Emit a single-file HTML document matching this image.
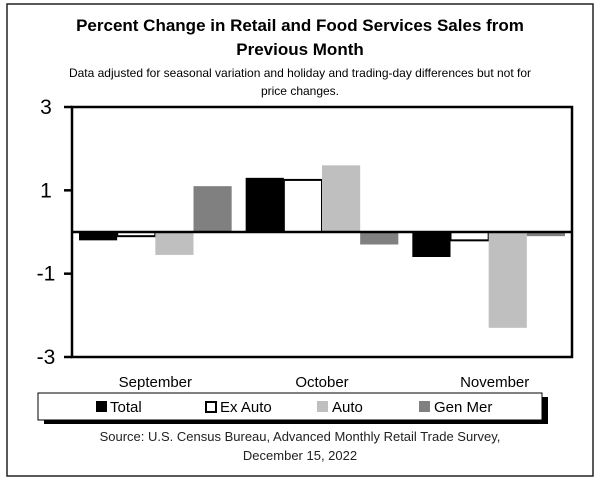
<!DOCTYPE html>
<html><head><meta charset="utf-8"><style>
body{margin:0;width:600px;height:482px;background:#fff;overflow:hidden;font-family:"Liberation Sans",sans-serif}
svg{display:block}
</style></head><body>
<svg width="600" height="482" xmlns="http://www.w3.org/2000/svg">
<rect x="7" y="4" width="586" height="472" fill="none" stroke="#222" stroke-width="1.5"/>
<text x="300" y="31" text-anchor="middle" font-size="17" font-weight="bold">Percent Change in Retail and Food Services Sales from</text>
<text x="300" y="55" text-anchor="middle" font-size="17" font-weight="bold">Previous Month</text>
<text x="300" y="77" text-anchor="middle" font-size="12">Data adjusted for seasonal variation and holiday and trading-day differences but not for</text>
<text x="300" y="95" text-anchor="middle" font-size="12">price changes.</text>
<g id="plot"></g>
<rect x="44" y="397" width="504" height="27" fill="#000"/>
<rect x="38" y="393" width="504" height="27" fill="#fff" stroke="#000" stroke-width="1"/>
<g font-size="15">
<rect x="96" y="401" width="11" height="11" fill="#000"/>
<text x="110" y="412">Total</text>
<rect x="206" y="402" width="10" height="10" fill="#fff" stroke="#000" stroke-width="2"/>
<text x="220" y="412">Ex Auto</text>
<rect x="317" y="401" width="11" height="11" fill="#bfbfbf"/>
<text x="332" y="412">Auto</text>
<rect x="419" y="401" width="11" height="11" fill="#808080"/>
<text x="434" y="412">Gen Mer</text>
</g>
<text x="300" y="441" text-anchor="middle" font-size="13" fill="#222">Source: U.S. Census Bureau, Advanced Monthly Retail Trade Survey,</text>
<text x="300" y="460" text-anchor="middle" font-size="13" fill="#222">December 15, 2022</text>
</svg>
<script>
const months = ["September","October","November"];
const series = ["Total","Ex Auto","Auto","Gen Mer"];
const totalVals = [-0.2, 1.3, -0.6];
const exAutoVals = [-0.1, 1.25, -0.2];
const autoVals = [-0.55, 1.6, -2.3];
const genMerVals = [1.1, -0.3, -0.1];
const yTicks = [3, 1, -1, -3];

const NS = "http://www.w3.org/2000/svg";
const g = document.getElementById("plot");
const L = 72, R = 572, T = 107, B = 357, yMin = -3, yMax = 3;
const y = v => T + (yMax - v) / (yMax - yMin) * (B - T);
const gw = (R - L) / months.length, pad = 7, bw = (gw - 2 * pad) / series.length;
const x = (m, s) => L + m * gw + pad + s * bw;
function mk(tag, attrs) { const e = document.createElementNS(NS, tag); for (const k in attrs) e.setAttribute(k, attrs[k]); g.appendChild(e); return e; }

const all = [totalVals, exAutoVals, autoVals, genMerVals];
const fills = ["#000", "#fff", "#bfbfbf", "#808080"];
const keys = ["total", "ex-auto", "auto", "gen-mer"];
all.forEach((vals, s) => {
  vals.forEach((v, m) => {
    const y0 = y(0), y1 = y(v);
    const r = mk("rect", { x: x(m, s), y: Math.min(y0, y1), width: bw, height: Math.abs(y1 - y0), fill: fills[s] });
    if (s === 1) { r.setAttribute("stroke", "#000"); r.setAttribute("stroke-width", "2"); }
    
    
  });
});
const frame = mk("rect", { x: L, y: T, width: R - L, height: B - T, fill: "none", stroke: "#000", "stroke-width": 2.5 });


const zl = mk("line", { x1: L, x2: R, y1: y(0), y2: y(0), stroke: "#000", "stroke-width": 2.5 });


yTicks.forEach(t => {
  const tk = mk("line", { x1: L - 8, x2: L, y1: y(t), y2: y(t), stroke: "#000", "stroke-width": 2.5 });
  
  
  const tx = mk("text", { x: 46, y: y(t) + 7, "text-anchor": "middle", "font-size": 21 });
  tx.textContent = t;
  
  
});
months.forEach((mo, m) => {
  const tx = mk("text", { x: L + m * gw + gw / 2 + (m === 0 ? 0 : m === 1 ? 0 : 6), y: 387, "text-anchor": "middle", "font-size": 15 });
  tx.textContent = mo;
  
  
});
</script>
</body></html>
